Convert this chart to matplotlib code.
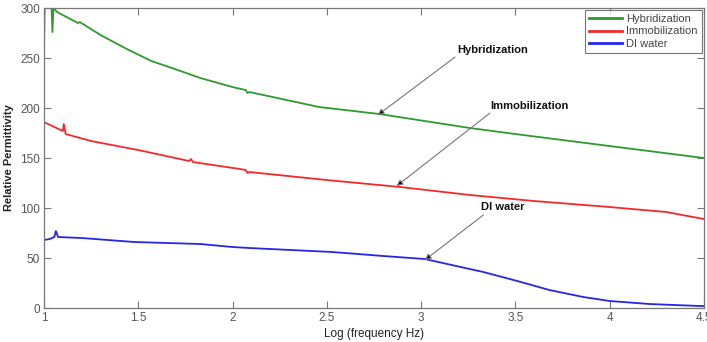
import numpy as np
import matplotlib
matplotlib.use("Agg")
import matplotlib.pyplot as plt

plt.rcParams['font.family'] = ['Liberation Sans', 'DejaVu Sans']

# values (log10 frequency, relative permittivity)
hyb_x = [1.0, 1.004, 1.02, 1.04, 1.045, 1.05, 1.07, 1.12, 1.18, 1.19, 1.3, 1.44,
         1.57, 1.71, 1.83, 2.0, 2.07, 2.08, 2.09, 2.46, 2.78, 3.26, 3.5, 4.0, 4.5]
hyb_y = [258, 304, 302, 301, 276, 300, 296, 291, 285, 286, 273, 259,
         247, 238, 230, 221, 218, 215, 216, 201, 194, 180, 174, 162, 150]

imm_x = [1.0, 1.1, 1.105, 1.115, 1.25, 1.5, 1.77, 1.78, 1.79, 2.04, 2.07, 2.08, 2.09,
         2.5, 2.89, 3.26, 3.6, 4.0, 4.3, 4.5]
imm_y = [186, 177, 184, 174, 167, 158, 147, 149, 146, 139, 138, 135, 136,
         128, 121, 113, 107, 101, 96, 89]

di_x = [1.0, 1.03, 1.055, 1.063, 1.075, 1.2, 1.48, 1.83, 2.0, 2.09, 2.53, 2.8,
        3.02, 3.21, 3.33, 3.51, 3.68, 3.86, 4.0, 4.21, 4.48, 4.5]
di_y = [68, 69, 71, 77, 71, 70, 66, 64, 61, 60, 56, 52,
        49, 41, 36, 27, 18, 11, 7, 4, 2, 2]

series = ['Hybridization', 'Immobilization', 'DI water']
colors = ['#2f9a2f', '#f42a2a', '#2626e6']

xticks = [1, 1.5, 2, 2.5, 3, 3.5, 4, 4.5]
xticklabels = ['1', '1.5', '2', '2.5', '3', '3.5', '4', '4.5']
yticks = [0, 50, 100, 150, 200, 250, 300]

fig = plt.figure(figsize=(7.07, 3.42), dpi=100)
ax = fig.add_axes([0.0622, 0.0994, 0.9335, 0.877])

for xs, ys, lab, c in zip([hyb_x, imm_x, di_x], [hyb_y, imm_y, di_y], series, colors):
    ax.plot(xs, ys, color=c, lw=1.3, label=lab)

ax.set_xlim(1, 4.5)
ax.set_ylim(0, 300)
ax.set_xticks(xticks)
ax.set_xticklabels(xticklabels)
ax.set_yticks(yticks)
ax.tick_params(direction='in', length=5, width=0.8, top=True, right=True,
               labelsize=8.5, labelcolor='#555555', color='#777777', pad=3)
for s in ax.spines.values():
    s.set_color('#777777')
    s.set_linewidth(0.9)

ax.set_xlabel('Log (frequency Hz)', fontsize=8.5, color='#222222', labelpad=3)
ax.set_ylabel('Relative Permittivity', fontsize=8, fontweight='bold', color='#222222', labelpad=4)

leg = ax.legend(loc='upper right', fontsize=8, frameon=True, fancybox=False,
                handlelength=3, handletextpad=0.4, borderpad=0.35, labelspacing=0.2,
                borderaxespad=0.2)
leg.get_frame().set_edgecolor('#555555')
leg.get_frame().set_linewidth(0.8)
for t in leg.get_texts():
    t.set_color('#444444')
for h in leg.get_lines():
    h.set_linewidth(2)

# annotations
notes = [('Hybridization', (3.19, 258), (3.18, 251), (2.77, 193)),
         ('Immobilization', (3.365, 202), (3.365, 195), (2.87, 122)),
         ('DI water', (3.32, 101), (3.33, 93), (3.02, 48))]
for txt, tpos, start, tip in notes:
    ax.text(tpos[0], tpos[1], txt, fontsize=8, fontweight='bold', color='#111111',
            ha='left', va='center')
    ax.annotate('', xy=tip, xytext=start,
                arrowprops=dict(arrowstyle='-|>', facecolor='black', edgecolor='#777777',
                                lw=0.8, mutation_scale=9, shrinkA=0, shrinkB=0))

fig.savefig('out.png', dpi=100)
